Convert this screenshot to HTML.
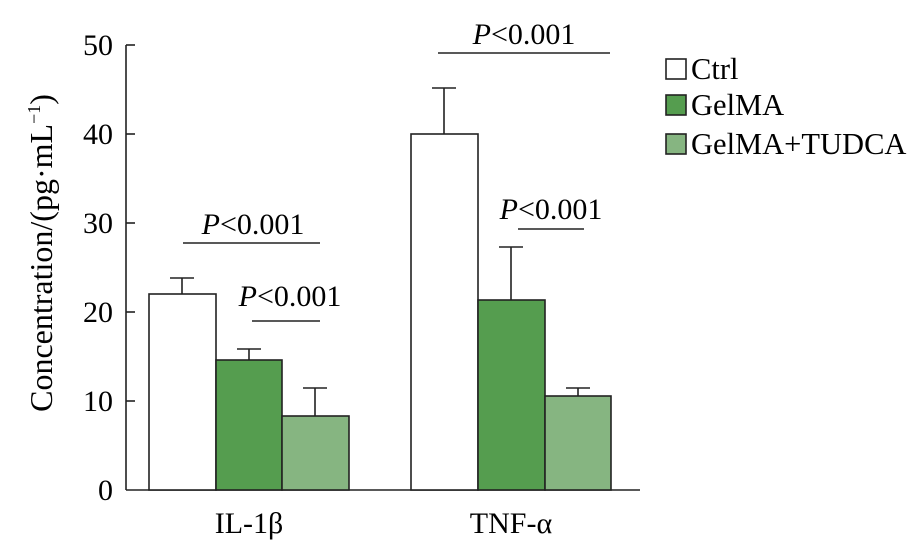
<!DOCTYPE html><html><head><style>body{margin:0;background:#fff}</style></head><body>
<svg width="922" height="544" xmlns="http://www.w3.org/2000/svg" font-family="Liberation Serif, serif" fill="#000">
<g stroke="#222" stroke-width="1.6">
<line x1="126" y1="45" x2="126" y2="490"/><line x1="126" y1="490" x2="640" y2="490"/>
<line x1="126" y1="45" x2="135" y2="45"/><line x1="126" y1="134" x2="135" y2="134"/><line x1="126" y1="223" x2="135" y2="223"/><line x1="126" y1="312" x2="135" y2="312"/><line x1="126" y1="401" x2="135" y2="401"/>
<line x1="182" y1="294" x2="182" y2="278"/><line x1="170" y1="278" x2="194" y2="278"/>
<line x1="249" y1="360" x2="249" y2="349"/><line x1="237" y1="349" x2="261" y2="349"/>
<line x1="315" y1="416" x2="315" y2="388"/><line x1="303" y1="388" x2="327" y2="388"/>
<line x1="444" y1="134" x2="444" y2="88"/><line x1="432" y1="88" x2="456" y2="88"/>
<line x1="511" y1="300" x2="511" y2="247"/><line x1="499" y1="247" x2="523" y2="247"/>
<line x1="578" y1="396" x2="578" y2="388"/><line x1="566" y1="388" x2="590" y2="388"/>
<rect x="149" y="294" width="67" height="196" fill="#fff"/>
<rect x="216" y="360" width="66" height="130" fill="#559d4f"/>
<rect x="282" y="416" width="67" height="74" fill="#86b581"/>
<rect x="411" y="134" width="67" height="356" fill="#fff"/>
<rect x="478" y="300" width="67" height="190" fill="#559d4f"/>
<rect x="545" y="396" width="66" height="94" fill="#86b581"/>
<line x1="183" y1="243" x2="320" y2="243"/><line x1="252" y1="321" x2="320" y2="321"/>
<line x1="438" y1="53" x2="610" y2="53"/><line x1="518" y1="229" x2="584" y2="229"/>
<rect x="666" y="59" width="20" height="20" fill="#fff"/>
<rect x="666" y="95" width="20" height="20" fill="#559d4f"/>
<rect x="666" y="134" width="20" height="20" fill="#86b581"/>
</g>
<g font-size="30">
<g text-anchor="end"><text x="113" y="55">50</text><text x="113" y="144">40</text><text x="113" y="233">30</text><text x="113" y="322">20</text><text x="113" y="411">10</text><text x="113" y="500">0</text></g>
<g text-anchor="middle"><text x="249" y="533">IL-1β</text><text x="511" y="533">TNF-α</text>
<text x="253" y="234"><tspan font-style="italic">P</tspan>&lt;0.001</text>
<text x="290" y="306"><tspan font-style="italic">P</tspan>&lt;0.001</text>
<text x="524" y="44"><tspan font-style="italic">P</tspan>&lt;0.001</text>
<text x="551" y="219"><tspan font-style="italic">P</tspan>&lt;0.001</text></g>
<g font-size="30.5"><text x="691" y="79">Ctrl</text><text x="691" y="115">GelMA</text><text x="691" y="154">GelMA+TUDCA</text></g>
<text transform="translate(52,253) rotate(-90)" text-anchor="middle" font-size="32">Concentration/(pg·mL<tspan font-size="18" dy="-12">−1</tspan><tspan dy="12">)</tspan></text>
</g>
</svg></body></html>
